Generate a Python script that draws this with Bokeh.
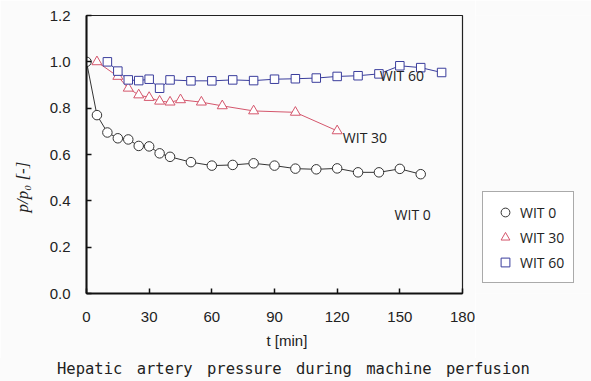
from bokeh.plotting import figure
from bokeh.models import (Label, Legend, LegendItem, Range1d, FixedTicker,
                          PrintfTickFormatter, Title, Div)
from bokeh.layouts import column, row
from bokeh.embed import file_html
from bokeh.resources import INLINE

# ---- data ----
t_wit0 = [0, 5, 10, 15, 20, 25, 30, 35, 40, 50, 60, 70, 80, 90, 100, 110, 120, 130, 140, 150, 160]
p_wit0 = [1.0, 0.77, 0.695, 0.67, 0.665, 0.637, 0.635, 0.605, 0.59, 0.567, 0.552, 0.555, 0.562,
          0.552, 0.539, 0.536, 0.54, 0.523, 0.523, 0.538, 0.515]

t_wit30 = [5, 15, 20, 25, 30, 35, 40, 45, 55, 65, 80, 100, 120]
p_wit30 = [1.0, 0.937, 0.886, 0.857, 0.846, 0.83, 0.826, 0.836, 0.826, 0.81, 0.788, 0.782, 0.702]

t_wit60 = [10, 15, 20, 25, 30, 35, 40, 50, 60, 70, 80, 90, 100, 110, 120, 130, 140, 150, 160, 170]
p_wit60 = [1.0, 0.96, 0.922, 0.919, 0.925, 0.886, 0.922, 0.918, 0.918, 0.922, 0.919, 0.925,
           0.927, 0.93, 0.937, 0.94, 0.948, 0.983, 0.975, 0.954]

series_names = ["WIT 0", "WIT 30", "WIT 60"]
x_ticks = [0, 30, 60, 90, 120, 150, 180]
y_ticks = [0.0, 0.2, 0.4, 0.6, 0.8, 1.0, 1.2]
x_label = "t [min]"
y_label = "p/p\u2080 [-]"
caption = "Hepatic artery pressure during machine perfusion"

BG = "#fbfbfb"
C0 = "#333333"
C30 = "#d4566c"
C60 = "#3a3d9c"
TXT = "#222222"

styles = [
    dict(marker="circle", size=9.5, fill_color="white", line_color=C0, line_width=1),
    dict(marker="triangle", size=10, fill_color="white", line_color=C30, line_width=1),
    dict(marker="square", size=8.5, fill_color="white", line_color=C60, line_width=1),
]
series = [(t_wit0, p_wit0), (t_wit30, p_wit30), (t_wit60, p_wit60)]
colors = [C0, C30, C60]

p = figure(width=475, height=358, output_backend="svg", toolbar_location=None,
           x_range=Range1d(0, 180), y_range=Range1d(0, 1.2),
           min_border_left=85, min_border_right=13, min_border_top=15, min_border_bottom=65)
p.background_fill_color = BG
p.border_fill_color = BG
p.outline_line_color = "#222222"
p.outline_line_width = 1.2
p.grid.visible = False

for ax in (p.xaxis[0], p.yaxis[0]):
    ax.axis_line_width = 2
    ax.axis_line_color = "#111111"
    ax.major_tick_in = 5
    ax.major_tick_out = 0
    ax.major_tick_line_width = 1.5
    ax.major_tick_line_color = "#111111"
    ax.minor_tick_line_color = None
    ax.major_label_text_font = "Liberation Sans"
    ax.major_label_text_font_size = "15px"
    ax.major_label_text_color = TXT

p.xaxis.ticker = FixedTicker(ticks=x_ticks)
p.yaxis.ticker = FixedTicker(ticks=y_ticks)
p.xaxis.formatter = PrintfTickFormatter(format="%d")
p.yaxis.formatter = PrintfTickFormatter(format="%.1f")
p.xaxis.major_label_standoff = 18
p.yaxis.major_label_standoff = 16

# lines + markers
for (tx, py), c in zip(series, colors):
    p.line(tx, py, line_color=c, line_width=1)
for (tx, py), st in zip(series, styles):
    p.scatter(tx, py, **st)

# in-plot series labels
for txt, x, y in [(series_names[2], 140.4, 0.941), (series_names[1], 122.7, 0.673),
                  (series_names[0], 147.5, 0.341)]:
    p.add_layout(Label(x=x, y=y, text=txt, text_font="Open Sans", text_font_size="14px",
                       text_color=TXT, text_align="left", text_baseline="middle"))

# axis titles as side-panel titles
p.add_layout(Title(text=y_label, align="left", offset=81, vertical_align="top", standoff=25,
                   text_font="Liberation Serif", text_font_style="italic",
                   text_font_size="17px", text_color=TXT), "left")
p.add_layout(Title(text=x_label, align="left", offset=180, vertical_align="middle", standoff=12,
                   text_font="Liberation Sans", text_font_style="normal",
                   text_font_size="15px", text_color=TXT), "below")

# legend panel: small figure to the right of the plot; its series are drawn
# outside its visible range so only the legend box shows
lg = figure(width=116, height=358, output_backend="svg", toolbar_location=None,
            x_axis_location=None, y_axis_location=None, min_border=0,
            x_range=Range1d(-1000, -999), y_range=Range1d(-1000, -999))
lg.background_fill_color = BG
lg.border_fill_color = BG
lg.outline_line_color = None
lg.grid.visible = False
leg_renderers = [lg.scatter(tx, py, **st) for (tx, py), st in zip(series, styles)]

legend = Legend(items=[LegendItem(label=n, renderers=[r]) for n, r in zip(series_names, leg_renderers)],
                location=(7, 10), margin=0, padding=9, spacing=3,
                glyph_height=22, glyph_width=26, label_standoff=2,
                label_text_font="Open Sans", label_text_font_size="14px",
                label_text_color=TXT,
                border_line_color="#555555", border_line_width=1,
                background_fill_color="white", background_fill_alpha=1)
lg.add_layout(legend)

cap = Div(text=caption, width=591, height=23, margin=(0, 0, 0, 0),
          styles={"background-color": BG, "padding-left": "57px",
                  "font-family": "'DejaVu Sans Mono', monospace", "font-size": "15.5px",
                  "word-spacing": "5px", "line-height": "22px", "color": TXT,
                  "white-space": "nowrap", "box-sizing": "border-box"})

layout = column(row(p, lg, spacing=0), cap, spacing=0)
open("out.html", "w").write(file_html(layout, INLINE))
